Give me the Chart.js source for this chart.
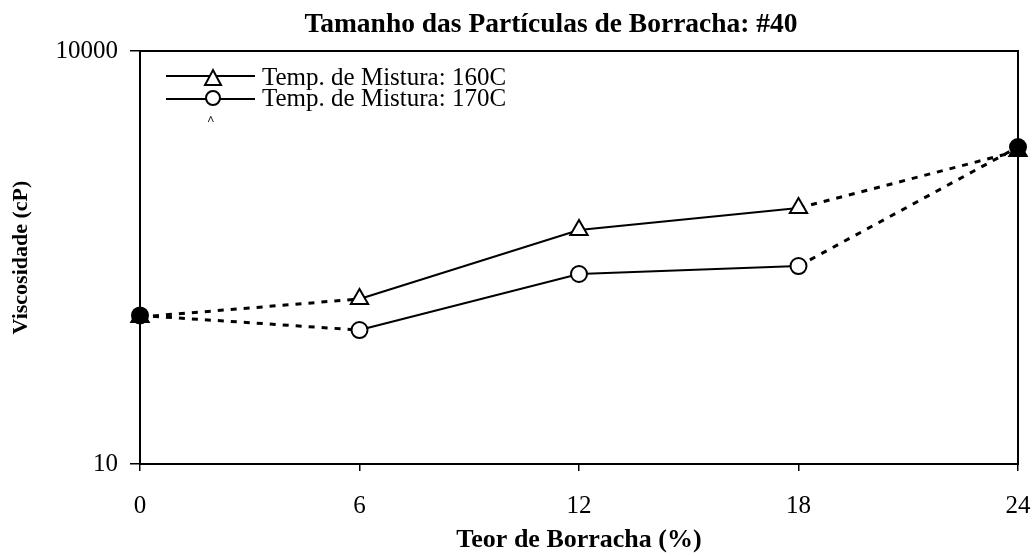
<!DOCTYPE html>
<html>
<head>
<meta charset="utf-8">
<script src="https://cdn.jsdelivr.net/npm/chart.js@4/dist/chart.umd.min.js"></script>
<style>
  body { margin: 0; background: #fff; }
  #wrap { position: relative; width: 1034px; height: 556px; font-family: "Liberation Serif", "Times New Roman", serif; color: #000; }
  #title { position: absolute; top: 8px; left: 0; width: 1102px; text-align: center; font-weight: bold; font-size: 27.5px; line-height: 30px; }
  .sym { position: absolute; left: 166px; }
  .legtxt { position: absolute; left: 262px; font-size: 25px; line-height: 25px; white-space: nowrap; }
  #caret { position: absolute; left: 207px; top: 112px; font-size: 13px; font-weight: bold; }
</style>
</head>
<body>
<div id="wrap">
  <canvas id="lineChart" width="1034" height="556"></canvas>
  <div id="title">Tamanho das Partículas de Borracha: #40</div>
  <svg class="sym" style="top:66px" width="92" height="22"><line x1="0" y1="10" x2="89" y2="10" stroke="#000" stroke-width="2"/><polygon points="47,4 55,19 39,19" fill="#fff" stroke="#000" stroke-width="2"/></svg>
  <div class="legtxt" style="top:64px">Temp. de Mistura: 160C</div>
  <svg class="sym" style="top:88px" width="92" height="22"><line x1="0" y1="11" x2="89" y2="11" stroke="#000" stroke-width="2"/><circle cx="47" cy="10" r="7" fill="#fff" stroke="#000" stroke-width="2"/></svg>
  <div class="legtxt" style="top:85px">Temp. de Mistura: 170C</div>
  <div id="caret">^</div>
</div>
<script>
// data
var teor = [0, 6, 12, 18, 24];
var visc160 = [117, 158, 500, 723, 1875];
var visc170 = [120, 94, 240, 274, 2005];
var yTicks = [10, 10000];
var xLabels = [0, 6, 12, 18, 24];

// first and last points are filled, the middle ones open
var fills = ['#000', '#fff', '#fff', '#fff', '#000'];

function toPoints(values) {
  var pts = [];
  for (i = 0; i < teor.length; i++) {
    pts.push({ x: teor[i], y: values[i] });
  }
  return pts;
}

// dotted at both ends, solid in the middle
function segDash(ctx) {
  if (ctx.p0DataIndex === 0 || ctx.p0DataIndex === 3) {
    return [6, 7];
  }
  return undefined;
}
function segWidth(ctx) {
  if (ctx.p0DataIndex === 0 || ctx.p0DataIndex === 3) {
    return 3;
  }
  return 2;
}

var serif = '"Liberation Serif", "Times New Roman", serif';

let myChart = document.getElementById('lineChart');

let myLineChart = new Chart(myChart, {
  type: 'line',
  data: {
    datasets: [
      {
        label: 'Temp. de Mistura: 160C',
        data: toPoints(visc160),
        borderColor: '#000',
        borderWidth: 2,
        pointStyle: 'triangle',
        pointRadius: 10,
        pointBorderWidth: 2,
        pointBorderColor: '#000',
        pointBackgroundColor: fills,
        segment: { borderDash: segDash, borderWidth: segWidth },
        clip: false
      },
      {
        label: 'Temp. de Mistura: 170C',
        data: toPoints(visc170),
        borderColor: '#000',
        borderWidth: 2,
        pointStyle: 'circle',
        pointRadius: 8,
        pointBorderWidth: 2,
        pointBorderColor: '#000',
        pointBackgroundColor: fills,
        segment: { borderDash: segDash, borderWidth: segWidth },
        clip: false
      }
    ]
  },
  options: {
    responsive: false,
    animation: false,
    layout: { padding: { top: 51, left: 0, right: 0, bottom: 0 } },
    plugins: {
      legend: { display: false },
      tooltip: { enabled: false }
    },
    scales: {
      x: {
        type: 'linear',
        position: 'bottom',
        min: 0,
        max: 24,
        afterBuildTicks: function(scale) {
          scale.ticks = xLabels.map(function(v) { return { value: v }; });
        },
        ticks: { color: '#000', font: { family: serif, size: 25 }, padding: 20, maxRotation: 0 },
        grid: { drawOnChartArea: false, tickLength: 7, color: '#000', lineWidth: 1.5 },
        border: { color: '#000', width: 2 },
        title: { display: true, text: 'Teor de Borracha (%)', color: '#000', font: { family: serif, size: 26, weight: 'bold' }, padding: { top: 4, bottom: 0 } },
        afterFit: function(scale) {
          scale.height = 92;
          scale.paddingRight = 0;
        }
      },
      y: {
        type: 'logarithmic',
        position: 'left',
        min: 10,
        max: 10000,
        afterBuildTicks: function(scale) {
          scale.ticks = yTicks.map(function(v) { return { value: v }; });
        },
        ticks: {
          color: '#000',
          font: { family: serif, size: 25 },
          padding: 12,
          callback: function(value) { return String(value); }
        },
        grid: { drawOnChartArea: false, tickLength: 10, color: '#000', lineWidth: 1.5 },
        border: { color: '#000', width: 2 },
        title: { display: true, text: 'Viscosidade (cP)', color: '#000', font: { family: serif, size: 22, weight: 'bold' }, padding: { top: 8, bottom: 4 } },
        afterFit: function(scale) { scale.width = 140; }
      },
      xTop: {
        type: 'linear',
        position: 'top',
        ticks: { display: false },
        grid: { display: false, drawTicks: false },
        border: { color: '#000', width: 2 },
        afterFit: function(scale) { scale.height = 0; }
      },
      yRight: {
        type: 'linear',
        position: 'right',
        ticks: { display: false },
        grid: { display: false, drawTicks: false },
        border: { color: '#000', width: 2 },
        afterFit: function(scale) { scale.width = 16; }
      }
    }
  }
});
</script>
</body>
</html>
